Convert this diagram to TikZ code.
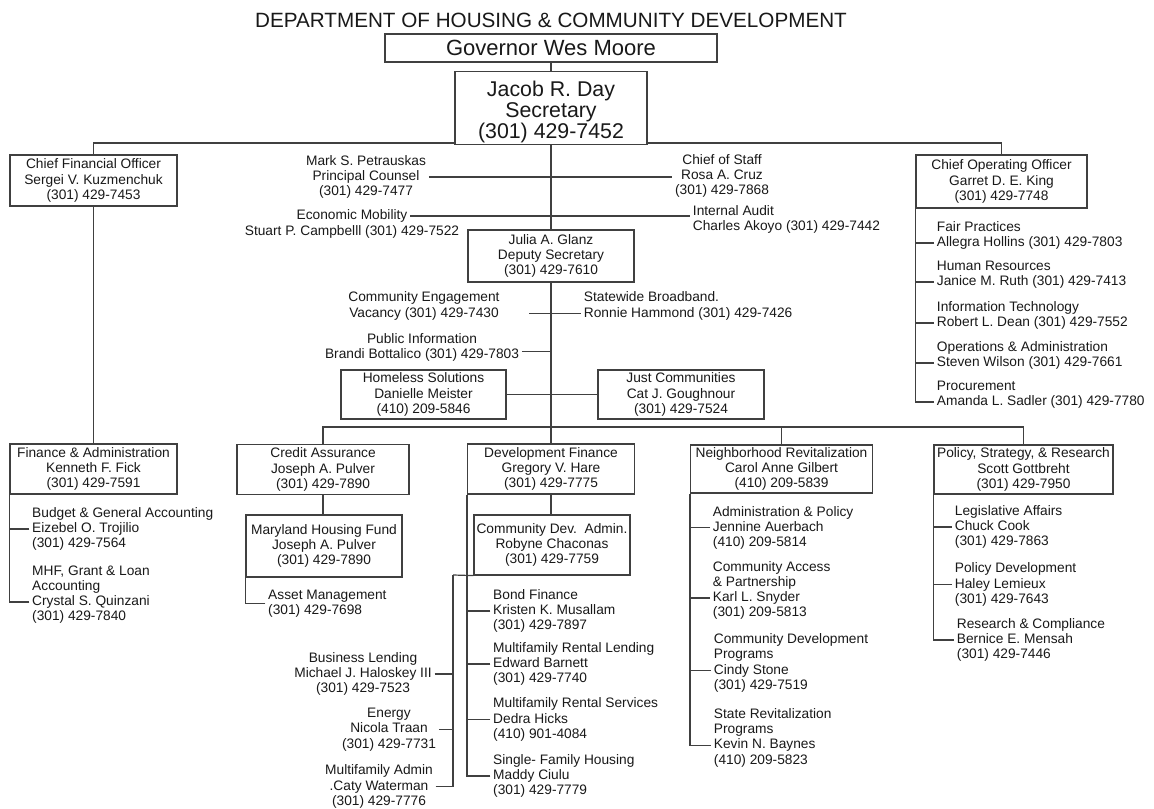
\documentclass[tikz,border=0pt]{standalone}
\usepackage{fontspec}
\setmainfont{Liberation Sans}
\usepackage{tikz}
\usetikzlibrary{positioning}

\newcommand{\bodyfont}{\fontsize{10.3}{11.4}\selectfont}
\newcommand{\secfont}{\fontsize{16}{14.2}\selectfont}
\newcommand{\govfont}{\fontsize{16.5}{18}\selectfont}
\newcommand{\titlefont}{\fontsize{15.5}{17}\selectfont}

\begin{document}
\begin{tikzpicture}[
    x=0.75pt, y=-0.75pt,
    office/.style={draw=black!75, line width=0.9pt, align=center, inner sep=1pt,
                   font=\bodyfont, text=black!90},
    staff/.style={align=center, inner sep=2pt, font=\bodyfont, text=black!90},
    unit/.style={align=left, anchor=west, inner sep=2pt, font=\bodyfont, text=black!90},
    link/.style={draw=black!75, line width=0.9pt},
  ]
  \useasboundingbox (0,0) rectangle (1154,809);
  \fill[white] (0,0) rectangle (1154,809);

  % Title, Governor and Secretary
  \node[font=\titlefont, text=black!90] (title) at (551,20) {DEPARTMENT OF HOUSING \& COMMUNITY DEVELOPMENT};
  \node[office, font=\govfont, minimum width=332*0.75pt, minimum height=28*0.75pt] (gov) at (551,48) {Governor Wes Moore};
  \node[office, font=\secfont, minimum width=192*0.75pt, minimum height=64*0.75pt] (sec) at (551,108) {\rule{0pt}{18pt}Jacob R. Day\\Secretary\\(301) 429-7452};
  \draw[link] (gov) -- (sec);

  % Chief officers
  \node[office, minimum width=167*0.75pt, minimum height=51*0.75pt] (cfo) at (93.5,180.5) {Chief Financial Officer\\Sergei V. Kuzmenchuk\\(301) 429-7453};
  \node[office, minimum width=171*0.75pt, minimum height=53*0.75pt] (coo) at (1001.5,181.5) {Chief Operating Officer\\Garret D. E. King\\(301) 429-7748};
  \draw[link] ([yshift=1.5pt]sec.south west) -| (cfo.north);
  \draw[link] ([yshift=1.5pt]sec.south east) -| (coo.north);

  % Staff beside the trunk
  \node[staff] (counsel) at (366,177) {Mark S. Petrauskas\\Principal Counsel\\(301) 429-7477};
  \node[staff] (chiefstaff) at (722,176) {Chief of Staff\\Rosa A. Cruz\\(301) 429-7868};
  \draw[link] (counsel.east) -- (counsel.east -| chiefstaff.west);
  \node[staff] (econ) at (352,216) {Economic Mobility};
  \node[staff] (econname) at (352,232) {Stuart P. Campbelll (301) 429-7522};
  \node[unit] (audit) at (690,219.5) {Internal Audit\\Charles Akoyo (301) 429-7442};
  \draw[link] (econ.east) -- (econ.east -| audit.west);

  % Deputy Secretary
  \node[office, minimum width=166*0.75pt, minimum height=52*0.75pt] (deputy) at (551,256) {Julia A. Glanz\\Deputy Secretary\\(301) 429-7610};
  \draw[link] (sec) -- (deputy);
  \node[staff] (engage) at (424,306) {Community Engagement\\Vacancy (301) 429-7430};
  \node[unit] (broadband) at (581,306) {Statewide Broadband.\\Ronnie Hammond (301) 429-7426};
  \draw[link] ([xshift=20pt,yshift=-5.6pt]engage.east) -- ([yshift=-5.6pt]broadband.west);
  \node[staff] (pubinfo) at (422,347.5) {Public Information\\Brandi Bottalico (301) 429-7803};
  \coordinate (pubtick) at ([yshift=-3pt]pubinfo.east);
  \draw[link] (pubtick) -- (pubtick -| deputy.south);
  \node[office, minimum width=165*0.75pt, minimum height=49*0.75pt] (homeless) at (423.5,394.5) {Homeless Solutions\\Danielle Meister\\(410) 209-5846};
  \node[office, minimum width=166*0.75pt, minimum height=49*0.75pt] (justcomm) at (681,394.5) {Just Communities\\Cat J. Goughnour\\(301) 429-7524};
  \draw[link] (homeless) -- (justcomm);

  % Division heads
  \coordinate (bar) at (551,427);
  \node[office, minimum width=167*0.75pt, minimum height=50*0.75pt] (finadmin) at (93.5,469) {Finance \& Administration\\Kenneth F. Fick\\(301) 429-7591};
  \node[office, minimum width=172*0.75pt, minimum height=50*0.75pt] (credit) at (323,469.5) {Credit Assurance\\Joseph A. Pulver\\(301) 429-7890};
  \node[office, minimum width=167*0.75pt, minimum height=50*0.75pt] (devfin) at (551,469) {Development Finance\\Gregory V. Hare\\(301) 429-7775};
  \node[office, minimum width=182*0.75pt, minimum height=48*0.75pt] (neighb) at (781.5,469) {Neighborhood Revitalization\\Carol Anne Gilbert\\(410) 209-5839};
  \node[office, minimum width=179*0.75pt, minimum height=49*0.75pt] (policy) at (1023.5,469.5) {Policy, Strategy, \& Research\\Scott Gottbreht\\(301) 429-7950};
  \draw[link] (cfo) -- (finadmin);
  \draw[link] (deputy) -- (devfin);
  \draw[link] (credit.north) |- (bar) -| (policy.north);
  \draw[link] (neighb.north) -- (neighb.north |- bar);

  % Second level offices
  \node[office, minimum width=156*0.75pt, minimum height=62*0.75pt] (mdfund) at (324,546) {Maryland Housing Fund\\Joseph A. Pulver\\(301) 429-7890};
  \node[office, minimum width=156*0.75pt, minimum height=60*0.75pt] (cdadmin) at (552,545) {Community Dev.\ \ Admin.\\Robyne Chaconas\\(301) 429-7759};
  \draw[link] (credit.south) -- (credit.south |- mdfund.north);
  \draw[link] (devfin.south) -- (devfin.south |- cdadmin.north);

  % Finance & Administration units
  \node[unit] (budget) at (29.3,529) {Budget \& General Accounting\\Eizebel O. Trojilio\\(301) 429-7564};
  \node[unit] (loanacct) at (29.3,594.5) {MHF, Grant \& Loan\\Accounting\\Crystal S. Quinzani\\(301) 429-7840};
  \draw[link] (budget.west) -| (finadmin.south west);
  \draw[link] ([yshift=-5.6pt]loanacct.west) -| (finadmin.south west);

  % Maryland Housing Fund unit
  \node[unit] (assetmgmt) at (265.3,603.5) {Asset Management\\(301) 429-7698};
  \draw[link] (assetmgmt.west) -| (mdfund.south west);

  % Community Dev. Admin. units
  \coordinate (cdaknee) at (453,575);
  \node[staff] (bizlend) at (363,674) {Business Lending\\Michael J. Haloskey III\\(301) 429-7523};
  \node[staff] (energy) at (389,729.5) {Energy\\Nicola Traan\\(301) 429-7731};
  \node[staff] (mfadmin) at (379,786.5) {Multifamily Admin\\.Caty Waterman\\(301) 429-7776};
  \draw[link] (cdadmin.south west) -- (cdaknee);
  \foreach \n in {bizlend, energy, mfadmin}
    \draw[link] (\n.east) -| (cdaknee);

  % Development Finance units
  \node[unit] (bond) at (490.3,611) {Bond Finance\\Kristen K. Musallam\\(301) 429-7897};
  \node[unit] (mfrlend) at (490.3,664) {Multifamily Rental Lending\\Edward Barnett\\(301) 429-7740};
  \node[unit] (mfrserv) at (490.3,719.5) {Multifamily Rental Services\\Dedra Hicks\\(410) 901-4084};
  \node[unit] (sfhousing) at (490.3,776) {Single- Family Housing\\Maddy Ciulu\\(301) 429-7779};
  \foreach \n in {bond, mfrlend, mfrserv, sfhousing}
    \draw[link] (\n.west) -| (devfin.south west);

  % Neighborhood Revitalization units
  \node[unit] (adminpol) at (710,527.7) {Administration \& Policy\\Jennine Auerbach\\(410) 209-5814};
  \node[unit] (access) at (710,590.5) {Community Access\\\& Partnership\\Karl L. Snyder\\(301) 209-5813};
  \node[unit] (cdprog) at (711,663) {Community Development\\Programs\\Cindy Stone\\(301) 429-7519};
  \node[unit] (staterev) at (711,737.75) {State Revitalization\\Programs\\Kevin N. Baynes\\(410) 209-5823};
  \draw[link] (adminpol.west) -| (neighb.south west);
  \foreach \n in {access, cdprog, staterev}
    \draw[link] ([yshift=-5.6pt]\n.west) -| (neighb.south west);

  % Policy, Strategy, & Research units
  \node[unit] (legis) at (952,527) {Legislative Affairs\\Chuck Cook\\(301) 429-7863};
  \node[unit] (poldev) at (952,584.5) {Policy Development\\Haley Lemieux\\(301) 429-7643};
  \node[unit] (research) at (954,640) {Research \& Compliance\\Bernice E. Mensah\\(301) 429-7446};
  \foreach \n in {legis, poldev, research}
    \draw[link] (\n.west) -| (policy.south west);

  % Chief Operating Officer units
  \node[unit] (fairprac) at (934,235.5) {Fair Practices\\Allegra Hollins (301) 429-7803};
  \node[unit] (humres) at (934,274.5) {Human Resources\\Janice M. Ruth (301) 429-7413};
  \node[unit] (infotech) at (934,315.5) {Information Technology\\Robert L. Dean (301) 429-7552};
  \node[unit] (opsadmin) at (934,355.5) {Operations \& Administration\\Steven Wilson (301) 429-7661};
  \node[unit] (procure) at (934,394.5) {Procurement\\Amanda L. Sadler (301) 429-7780};
  \foreach \n in {fairprac, humres, infotech, opsadmin, procure}
    \draw[link] ([yshift=-5.6pt]\n.west) -| (coo.south west);
\end{tikzpicture}
\end{document}
